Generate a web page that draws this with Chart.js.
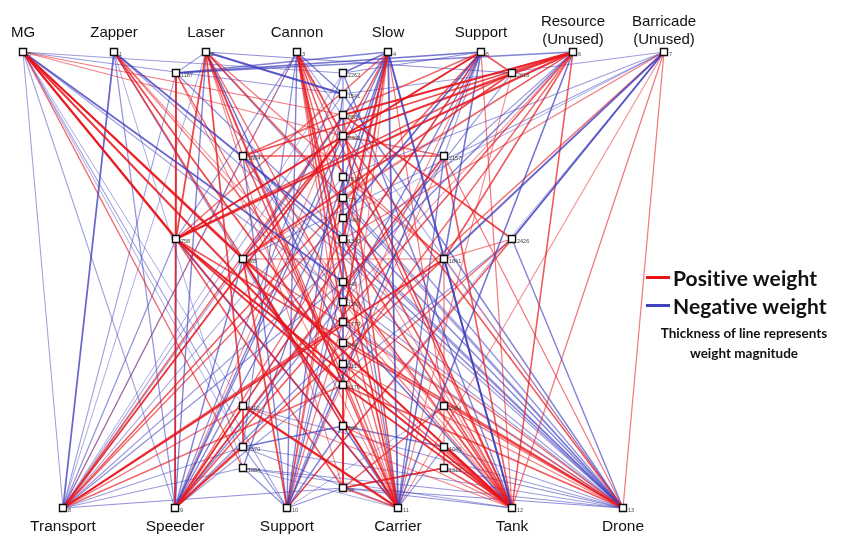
<!DOCTYPE html>
<html>
<head>
<meta charset="utf-8">
<script src="https://cdn.jsdelivr.net/npm/chart.js@4"></script>
<style>
  html, body { margin: 0; padding: 0; background: #fff; }
  #wrap { position: relative; width: 859px; height: 534px; overflow: hidden; }
  #net { position: absolute; left: 0; top: 0; }
  .name { position: absolute; font-family: "Liberation Sans", Arial, sans-serif; color: #111;
          text-align: center; white-space: nowrap; transform: translate(-50%, -50%); line-height: 18px; }
  .tag { position: absolute; font-family: "Liberation Sans", Arial, sans-serif; font-size: 5.5px;
         color: #444; white-space: nowrap; transform: translate(0, -50%); line-height: 6px; }
  .legend { position: absolute; left: 646px; top: 263px; width: 200px; font-family: Lato, "Open Sans", sans-serif;
            font-weight: 700; color: #111; }
  .legend .row { display: flex; align-items: center; height: 28px; }
  .legend .swatch { width: 24px; height: 3px; margin-right: 3px; }
  .legend .big { font-size: 21px; letter-spacing: 0.1px; }
  .legend .note { font-size: 13.5px; text-align: center; line-height: 20px; width: 196px; margin-top: 4px; }
</style>
</head>
<body>
<div id="wrap">
  <canvas id="net" width="859" height="534"></canvas>
  <div class="legend">
    <div class="row"><span class="swatch" style="background:#e8141a"></span><span class="big">Positive weight</span></div>
    <div class="row"><span class="swatch" style="background:#4040c0"></span><span class="big">Negative weight</span></div>
    <div class="note">Thickness of line represents<br>weight magnitude</div>
  </div>
</div>
<script>
// Input sensors (top row) and outputs (bottom row)
const inputNames = ["MG", "Zapper", "Laser", "Cannon", "Slow", "Support", "Resource\n(Unused)", "Barricade\n(Unused)"];
const outputNames = ["Transport", "Speeder", "Support", "Carrier", "Tank", "Drone"];

// Node ids printed beside each square
const nodeTags = [
  "0", "1", "2", "3", "4", "5", "6", "7",
  "8", "9", "10", "11", "12", "13",
  "1187", "758", "1664", "985", "1102", "1370", "1084",
  "2262", "1541", "888", "2302", "1618", "775", "1466", "1340",
  "440", "1287", "1779", "844", "2117", "1176", "568", "94",
  "2157", "1841", "2064", "1040", "1316", "2618", "2426"
];

// Node coordinates in layout units (x to the right, y downward)
const nodeX = [
  23, 114, 206, 297, 388, 481, 573, 664,
  63, 175, 287, 398, 512, 623,
  176, 176, 243, 243, 243, 243, 243,
  343, 343, 343, 343, 343, 343, 343, 343,
  343, 343, 343, 343, 343, 343, 343, 343,
  444, 444, 444, 444, 444, 512, 512
];
const nodeY = [
  52, 52, 52, 52, 52, 52, 52, 52,
  508, 508, 508, 508, 508, 508,
  73, 239, 156, 259, 406, 447, 468,
  73, 94, 115, 136, 177, 198, 218, 239,
  282, 302, 322, 343, 364, 385, 426, 488,
  156, 259, 406, 447, 468, 73, 239
];

// Connections: [from, to, weight]
const edges = [
  // MG
  [0, 8, -0.3], [0, 9, -0.3], [0, 15, 0.9], [0, 17, 0.9], [0, 34, 0.8], [0, 29, -0.7],
  [0, 23, 0.4], [0, 22, -0.35], [0, 12, 0.5], [0, 13, -0.3], [0, 11, 0.6], [0, 10, -0.3], [0, 20, 0.5],
  [0, 18, -0.25], [0, 19, -0.25], [0, 21, -0.3], [0, 24, 0.35],
  // Zapper
  [1, 8, -0.7], [1, 9, -0.4], [1, 17, 0.6], [1, 28, -0.7], [1, 33, 0.7], [1, 12, 0.4], [1, 35, -0.4],
  [1, 13, -0.3], [1, 30, 0.3], [1, 20, -0.25],
  // Laser
  [2, 14, -0.3], [2, 22, -0.8], [2, 42, -0.4], [2, 16, 0.5], [2, 15, 0.7], [2, 18, 0.7], [2, 26, 0.6],
  [2, 30, 0.5], [2, 34, 0.6], [2, 9, -0.5], [2, 11, 0.5], [2, 13, -0.35], [2, 38, 0.4], [2, 32, -0.6],
  [2, 8, -0.25], [2, 36, 0.3],
  // Cannon
  [3, 24, 0.7], [3, 25, 0.6], [3, 27, 0.5], [3, 16, -0.3], [3, 15, -0.4], [3, 29, 0.7], [3, 31, 0.6],
  [3, 10, -0.5], [3, 12, 0.5], [3, 11, 0.7], [3, 22, -0.5], [3, 19, -0.4],
  [3, 13, -0.3], [3, 8, 0.3], [3, 33, 0.35],
  // Slow
  [4, 21, -0.6], [4, 14, -0.5], [4, 24, 0.6], [4, 26, -0.6], [4, 28, 0.8], [4, 31, 0.7], [4, 17, -0.5],
  [4, 15, 0.5], [4, 9, -0.5], [4, 11, -0.7], [4, 12, -0.8], [4, 39, 0.4], [4, 20, -0.5],
  [4, 10, -0.35], [4, 35, 0.3],
  // Support (input)
  [5, 14, -0.6], [5, 21, -0.4], [5, 42, 0.6], [5, 37, -0.3], [5, 24, 0.8], [5, 27, -0.7], [5, 30, -0.5],
  [5, 16, 0.5], [5, 15, 0.5], [5, 10, -0.6], [5, 9, 0.6], [5, 38, -0.6], [5, 12, 0.4], [5, 8, 0.6],
  [5, 32, 0.3], [5, 18, -0.3],
  // Resource
  [6, 14, -0.5], [6, 42, 0.6], [6, 23, 0.9], [6, 24, 0.7], [6, 16, 0.7], [6, 15, 0.8], [6, 38, 0.6],
  [6, 12, 0.6], [6, 29, -0.5], [6, 33, 0.5], [6, 9, 0.6], [6, 11, -0.6], [6, 26, 0.4],
  [6, 17, 0.35], [6, 30, 0.3], [6, 8, -0.3],
  // Barricade
  [7, 22, -0.3], [7, 43, -0.8], [7, 38, -0.7], [7, 13, 0.4], [7, 12, 0.4], [7, 17, -0.3], [7, 28, 0.4],
  [7, 25, -0.3], [7, 11, 0.3], [7, 32, 0.5], [7, 27, -0.25], [7, 10, -0.25],
  // hidden, left columns
  [14, 9, 0.7], [14, 15, 0.6], [14, 33, 0.5], [14, 13, -0.4], [14, 8, -0.3], [14, 11, 0.3],
  [15, 9, -0.6], [15, 12, 0.9], [15, 13, 0.6], [15, 34, 0.8], [15, 24, 0.8], [15, 11, -0.6], [15, 8, -0.4], [15, 36, 0.6],
  [16, 37, 0.6], [16, 11, 0.6], [16, 10, -0.5], [16, 13, -0.5], [16, 30, -0.4], [16, 8, -0.35], [16, 12, 0.3],
  [17, 10, 0.7], [17, 11, 0.9], [17, 12, 0.8], [17, 13, 0.5], [17, 9, -0.5], [17, 24, 0.7], [17, 38, 0.4], [17, 35, 0.6],
  [17, 8, -0.3],
  [18, 9, 0.6], [18, 19, 0.7], [18, 11, 0.9], [18, 8, 0.5], [18, 13, -0.3], [18, 12, 0.35],
  [19, 9, 0.7], [19, 10, -0.4], [19, 35, -0.6], [19, 13, -0.3], [19, 8, -0.3], [19, 11, -0.3],
  [20, 10, -0.4], [20, 12, -0.3], [20, 8, -0.3], [20, 13, -0.35], [20, 11, -0.25],
  // hidden, centre column
  [21, 9, -0.4], [21, 12, -0.5], [21, 22, -0.4], [21, 8, -0.25],
  [22, 10, -0.5], [22, 13, -0.5], [22, 23, -0.3], [22, 8, -0.3],
  [23, 24, -0.6], [23, 11, 0.6], [23, 8, 0.5], [23, 43, 0.7], [23, 9, 0.3],
  [24, 28, -0.7], [24, 12, 0.7], [24, 13, 0.6], [24, 8, 0.8], [24, 37, 0.5], [24, 9, -0.5],
  [25, 11, -0.5], [25, 10, 0.5], [25, 38, 0.4], [25, 13, -0.4], [25, 8, -0.3],
  [26, 12, 0.6], [26, 9, -0.5], [26, 10, 0.4], [26, 13, -0.35],
  [27, 13, -0.5], [27, 8, 0.5], [27, 11, 0.4], [27, 12, 0.3],
  [28, 32, -0.7], [28, 12, 0.6], [28, 9, 0.5], [28, 13, -0.4],
  [29, 10, -0.5], [29, 12, 0.6], [29, 8, -0.4], [29, 13, -0.3],
  [30, 11, 0.5], [30, 13, 0.5], [30, 9, -0.4], [30, 12, 0.3],
  [31, 12, -0.6], [31, 10, 0.4], [31, 8, 0.6], [31, 13, -0.3],
  [32, 34, -0.6], [32, 13, 0.6], [32, 9, -0.4], [32, 11, 0.3],
  [33, 11, 0.5], [33, 12, 0.6], [33, 10, -0.4], [33, 13, 0.4],
  [34, 35, 0.7], [34, 36, 0.6], [34, 12, 0.8], [34, 13, 0.6], [34, 8, 0.5],
  [35, 36, 0.8], [35, 10, -0.5], [35, 11, -0.6], [35, 40, -0.5], [35, 12, 0.4],
  [36, 10, -0.4], [36, 11, 0.5], [36, 41, 0.6], [36, 12, -0.4], [36, 8, -0.4], [36, 13, -0.4],
  // hidden, right columns
  [37, 12, 0.6], [37, 11, -0.5], [37, 9, 0.7], [37, 13, 0.4], [37, 10, 0.3],
  [38, 11, -0.6], [38, 12, -0.5], [38, 9, 0.6], [38, 8, 0.8], [38, 43, 0.4], [38, 40, 0.4], [38, 13, 0.3],
  [39, 12, 0.6], [39, 13, 0.5], [39, 36, 0.6], [39, 10, -0.25],
  [40, 12, 0.8], [40, 41, 0.6], [40, 11, -0.4], [40, 13, -0.3],
  [41, 12, 0.6], [41, 13, -0.4], [41, 36, 0.5],
  [42, 17, 0.7], [42, 15, 0.6], [42, 24, 0.6], [42, 9, -0.4], [42, 11, 0.3],
  [43, 13, -0.5], [43, 10, 0.6], [43, 34, 0.5], [43, 9, -0.3]
];

function edgeStyle(w) {
  const m = Math.min(1, Math.abs(w));
  const a = (0.28 + 0.72 * m).toFixed(2);
  return {
    color: w >= 0 ? `rgba(232, 20, 26, ${a})` : `rgba(60, 60, 190, ${a})`,
    width: 0.5 + 1.8 * m
  };
}

// strongest connections first in the list so they end up painted on top
const sorted = edges.slice().sort((p, q) => Math.abs(q[2]) - Math.abs(p[2]));
const edgeSets = sorted.map(([a, b, w]) => {
  const s = edgeStyle(w);
  return {
    data: [{ x: nodeX[a], y: nodeY[a] }, { x: nodeX[b], y: nodeY[b] }],
    showLine: true,
    borderColor: s.color,
    borderWidth: s.width,
    pointRadius: 0,
    pointHoverRadius: 0,
    order: 1
  };
});

const nodeSet = {
  data: nodeX.map((x, i) => ({ x, y: nodeY[i] })),
  showLine: false,
  pointStyle: 'rect',
  pointRadius: 5,
  pointHoverRadius: 5,
  backgroundColor: '#ffffff',
  borderColor: '#111111',
  borderWidth: 1.4,
  order: 0
};

// Places node names and id tags next to the squares, using the chart's scales
const labelPlugin = {
  id: 'nodeLabels',
  afterDraw(chart) {
    if (chart.$labelsDone) return;
    chart.$labelsDone = true;
    const wrap = document.getElementById('wrap');
    const xs = chart.scales.x, ys = chart.scales.y;
    const add = (cls, text, left, top, size) => {
      const d = document.createElement('div');
      d.className = cls;
      d.textContent = text;
      d.style.left = left + 'px';
      d.style.top = top + 'px';
      if (size) d.style.fontSize = size + 'px';
      wrap.appendChild(d);
      return d;
    };
    inputNames.forEach((name, i) => {
      const lines = name.split('\n');
      const px = xs.getPixelForValue(nodeX[i]);
      const py = ys.getPixelForValue(nodeY[i]);
      const d = add('name', '', px, py - 20 - (lines.length - 1) * 2, 15);
      d.innerHTML = lines.join('<br>');
    });
    outputNames.forEach((name, k) => {
      const i = 8 + k;
      add('name', name, xs.getPixelForValue(nodeX[i]), ys.getPixelForValue(nodeY[i]) + 18, 15.5);
    });
    nodeTags.forEach((t, i) => {
      add('tag', t, xs.getPixelForValue(nodeX[i]) + 5, ys.getPixelForValue(nodeY[i]) + 1.5);
    });
  }
};

new Chart(document.getElementById('net'), {
  type: 'scatter',
  data: { datasets: [nodeSet, ...edgeSets] },
  options: {
    responsive: false,
    animation: false,
    events: [],
    layout: { padding: 0, autoPadding: false },
    plugins: { legend: { display: false }, tooltip: { enabled: false } },
    scales: {
      x: { type: 'linear', min: 0, max: 859, display: false },
      y: { type: 'linear', min: 0, max: 534, reverse: true, display: false }
    }
  },
  plugins: [labelPlugin]
});
</script>
</body>
</html>
